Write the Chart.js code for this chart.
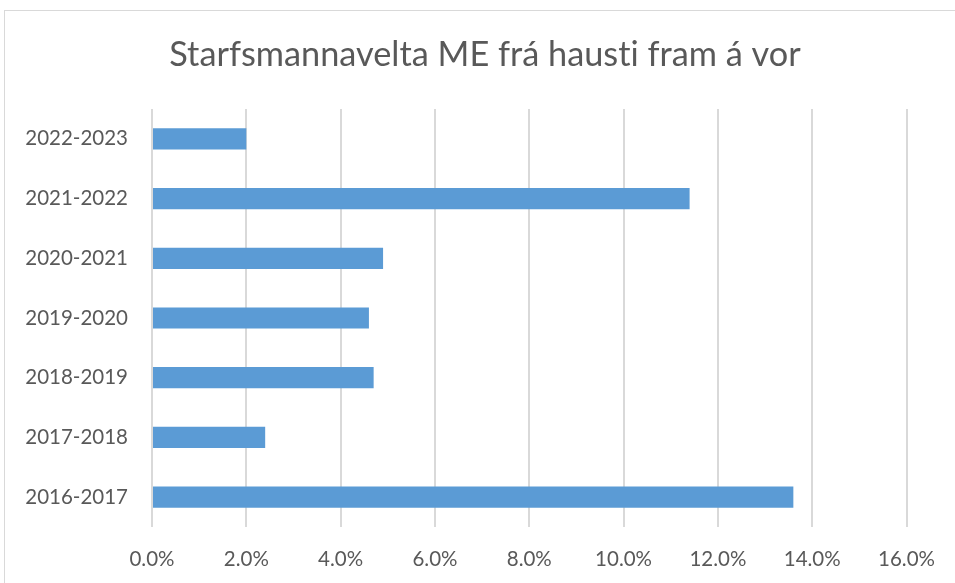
<!DOCTYPE html>
<html>
<head>
<meta charset="utf-8">
<script src="https://cdn.jsdelivr.net/npm/chart.js@4"></script>
<style>
  html, body { margin: 0; padding: 0; background: #fff; overflow: hidden; }
  #wrap { position: relative; width: 955px; height: 583px; }
  #frame { position: absolute; left: 4px; top: 10px; width: 1000px; height: 1000px; border: 1px solid #d9d9d9; box-sizing: border-box; }
  canvas { position: absolute; left: 0; top: 0; }
</style>
</head>
<body>
<div id="wrap">
  <div id="frame"></div>
  <canvas id="graph1" width="955" height="583"></canvas>
</div>
<script>
// Skólaár, efst er nýjast
const years = ['2022-2023', '2021-2022', '2020-2021', '2019-2020', '2018-2019', '2017-2018', '2016-2017'];
// Starfsmannavelta í prósentum
const turnover = [2.0, 11.4, 4.9, 4.6, 4.7, 2.4, 13.6];
const xTicks = [0, 2, 4, 6, 8, 10, 12, 14, 16];
const chartTitle = 'Starfsmannavelta ME frá hausti fram á vor';

const textColor = '#595959';
const fontFamily = 'Lato, "Open Sans", sans-serif';

// Titill teiknaður fyrir miðju á öllum striganum, án bandstafa
const titlePlugin = {
    id: 'centerTitle',
    afterDraw(chart) {
        const ctx = chart.ctx;
        ctx.save();
        ctx.textRendering = 'optimizeSpeed';
        ctx.font = '34.3px ' + fontFamily;
        ctx.fillStyle = textColor;
        ctx.textAlign = 'center';
        ctx.textBaseline = 'middle';
        ctx.fillText(chartTitle, 485, 55);
        ctx.restore();
    },
};

new Chart(document.getElementById('graph1'), {
    type: 'bar',
    data: {
        labels: years,
        datasets: [{
            label: 'Starfsmannavelta',
            data: turnover,
            backgroundColor: '#5b9bd5',
            borderWidth: 0,
            barPercentage: 0.355,
            categoryPercentage: 1,
        }],
    },
    plugins: [titlePlugin],
    options: {
        indexAxis: 'y',
        responsive: false,
        animation: false,
        layout: { padding: { left: 0, right: 47, top: 109, bottom: 0 } },
        plugins: {
            legend: { display: false },
            tooltip: { enabled: false },
        },
        scales: {
            x: {
                min: 0,
                max: 16,
                afterBuildTicks: (scale) => {
                    scale.ticks = xTicks.map(v => ({ value: v }));
                },
                afterFit: (scale) => { scale.height = 56; },
                grid: { color: '#d9d9d9', lineWidth: 2, drawTicks: false },
                border: { display: false },
                ticks: {
                    color: textColor,
                    padding: 20,
                    font: { family: fontFamily, size: 20.5 },
                    callback: (v) => v.toFixed(1) + '%',
                },
            },
            y: {
                afterFit: (scale) => { scale.width = 152; },
                grid: { display: false },
                border: { display: false },
                ticks: {
                    color: textColor,
                    padding: 16,
                    font: { family: fontFamily, size: 20.5 },
                },
            },
        },
    },
});
</script>
</body>
</html>
